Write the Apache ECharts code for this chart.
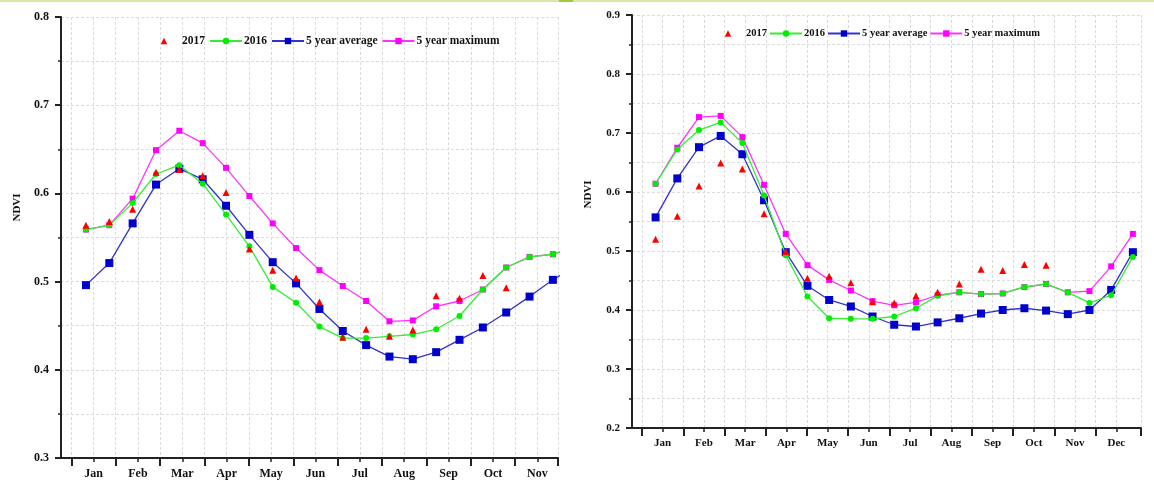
<!DOCTYPE html>
<html>
<head>
<meta charset="utf-8">
<script src="https://cdn.jsdelivr.net/npm/echarts@6/dist/echarts.min.js"></script>
<style>
html,body{margin:0;padding:0;background:#fff;}
#c{width:1154px;height:480px;}
</style>
</head>
<body>
<div id="c"></div>
<script>
// ---- data ----
const months = ['Jan','Feb','Mar','Apr','May','Jun','Jul','Aug','Sep','Oct','Nov','Dec'];
const seriesNames = ['2017','2016','5 year average','5 year maximum'];
// composite day-of-year positions
const doy = [10, 26, 42, 58, 74, 90, 106, 122, 138, 154, 170, 186, 202, 218, 234, 250, 266, 282, 298, 314, 330, 346, 362];

// left panel
const left2017 = [0.564, 0.568, 0.582, 0.624, 0.627, 0.620, 0.601, 0.537, 0.513, 0.504, 0.477, 0.437, 0.446, 0.438, 0.445, 0.484, 0.481, 0.507, 0.493];
const left2016 = [0.559, 0.564, 0.589, 0.622, 0.632, 0.611, 0.576, 0.540, 0.494, 0.476, 0.449, 0.436, 0.436, 0.438, 0.440, 0.446, 0.461, 0.491, 0.516, 0.528, 0.531, 0.540];
const leftAvg  = [0.496, 0.521, 0.566, 0.610, 0.628, 0.616, 0.586, 0.553, 0.522, 0.498, 0.469, 0.444, 0.428, 0.415, 0.412, 0.420, 0.434, 0.448, 0.465, 0.483, 0.502, 0.518];
const leftMax  = [0.559, 0.564, 0.594, 0.649, 0.671, 0.657, 0.629, 0.597, 0.566, 0.538, 0.513, 0.495, 0.478, 0.455, 0.456, 0.472, 0.478, 0.491, 0.516, 0.528, 0.531, 0.540];

// right panel
const right2017 = [0.520, 0.559, 0.610, 0.649, 0.639, 0.563, 0.499, 0.454, 0.457, 0.446, 0.414, 0.412, 0.424, 0.430, 0.444, 0.469, 0.467, 0.477, 0.476];
const right2016 = [0.614, 0.672, 0.705, 0.718, 0.683, 0.594, 0.493, 0.423, 0.386, 0.385, 0.385, 0.389, 0.403, 0.424, 0.430, 0.427, 0.428, 0.439, 0.444, 0.430, 0.412, 0.425, 0.490];
const rightAvg  = [0.557, 0.623, 0.676, 0.695, 0.664, 0.586, 0.498, 0.441, 0.417, 0.406, 0.389, 0.375, 0.372, 0.379, 0.386, 0.394, 0.400, 0.403, 0.399, 0.393, 0.400, 0.434, 0.498];
const rightMax  = [0.614, 0.675, 0.727, 0.729, 0.693, 0.612, 0.529, 0.476, 0.451, 0.433, 0.415, 0.408, 0.413, 0.425, 0.430, 0.427, 0.428, 0.439, 0.444, 0.430, 0.432, 0.474, 0.529];

// ---- build ----
const MONTH = 365 / 12;
const FONT = "'Liberation Serif','Times New Roman',serif";
const AXC = '#222';
const GRIDC = '#dcdcdc';

function pairs(vals){ return vals.map((v,i)=>[doy[i], v]); }

function xAxes(gi, min, max, nMonths, fs){
  const majors = [];
  for (let k=0;k<nMonths;k++) majors.push(k*MONTH);
  majors.push(max);
  const minors = [];
  for (let k=0;k<nMonths;k++) minors.push((k+0.5)*MONTH);
  const split = {show:true, lineStyle:{color:GRIDC, width:1, type:[3,2]}};
  return [
    {type:'value', gridIndex:gi, position:'bottom', min:min, max:max,
     axisLine:{show:true, onZero:false, lineStyle:{color:AXC, width:2}},
     axisTick:{show:true, customValues:majors, length:8, lineStyle:{color:AXC, width:2}},
     axisLabel:{show:false}, splitLine:split},
    {type:'value', gridIndex:gi, position:'bottom', min:min, max:max,
     axisLine:{show:false, onZero:false},
     axisTick:{show:true, customValues:minors, length:4, lineStyle:{color:AXC, width:1.5}},
     axisLabel:{show:true, customValues:minors, margin:10, fontSize:fs, fontWeight:'bold', fontFamily:FONT, color:'#111',
       formatter:(v)=>months[Math.floor(v/MONTH)]},
     splitLine:split}
  ];
}

function yAxis(gi, min, max, fs, nameShift){
  return {type:'value', gridIndex:gi, min:min, max:max, interval:0.1,
    axisLine:{show:true, onZero:false, lineStyle:{color:AXC, width:2}},
    axisTick:{show:true, length:6, lineStyle:{color:AXC, width:2}},
    minorTick:{show:true, splitNumber:2, length:3, lineStyle:{color:AXC, width:1.5}},
    splitLine:{show:true, lineStyle:{color:GRIDC, width:1, type:[3,2]}},
    minorSplitLine:{show:true, lineStyle:{color:GRIDC, width:1, type:[3,2]}},
    axisLabel:{margin:12, fontSize:fs, fontWeight:'bold', fontFamily:FONT, color:'#111',
      formatter:(v)=>v.toFixed(1)},
    name:'NDVI', nameLocation:'middle', nameGap:38, nameRotate:90,
    nameTextStyle:{fontSize:11, fontWeight:'bold', fontFamily:FONT, color:'#111', padding:[0,0,0,nameShift]}
  };
}

function panelSeries(xi, yi, d17, d16, dAvg, dMax){
  return [
    {name:seriesNames[0], type:'line', xAxisIndex:xi, yAxisIndex:yi, data:pairs(d17),
     symbol:'triangle', symbolSize:7, showSymbol:true, itemStyle:{color:'#ff0000', borderWidth:0},
     lineStyle:{width:0, opacity:0}, z:6},
    {name:seriesNames[1], type:'line', xAxisIndex:xi, yAxisIndex:yi, data:pairs(d16),
     symbol:'circle', symbolSize:6, showSymbol:true, itemStyle:{color:'#00ee00', borderWidth:0},
     lineStyle:{color:'#33ee33', width:1.3}, z:5},
    {name:seriesNames[2], type:'line', xAxisIndex:xi, yAxisIndex:yi, data:pairs(dAvg),
     symbol:'rect', symbolSize:8, showSymbol:true, itemStyle:{color:'#0000cc', borderWidth:0},
     lineStyle:{color:'#3333cc', width:1.3}, z:4},
    {name:seriesNames[3], type:'line', xAxisIndex:xi, yAxisIndex:yi, data:pairs(dMax),
     symbol:'rect', symbolSize:6, showSymbol:true, itemStyle:{color:'#ff00ff', borderWidth:0},
     lineStyle:{color:'#ff33ff', width:1.3}, z:3}
  ];
}

const legendText = (fs)=>({fontSize:fs, fontWeight:'bold', fontFamily:FONT, color:'#111', padding:[0,0,0,-3]});

const option = {
  animation:false,
  backgroundColor:'#fff',
  graphic:[
    {type:'rect', shape:{x:0,y:0,width:1154,height:2}, style:{fill:'#d8e8a6'}, z:100},
    {type:'rect', shape:{x:559,y:0,width:14,height:2}, style:{fill:'#a2c83c'}, z:101}
  ],
  grid:[
    {left:61, top:17, right:596, bottom:20, containLabel:false},
    {left:632, top:15, right:13, bottom:52, containLabel:false}
  ],
  xAxis:[].concat(xAxes(0, -7.1, 333.5, 11, 12), xAxes(1, -7.4, 368, 12, 11)),
  yAxis:[yAxis(0, 0.3, 0.8, 12, 60), yAxis(1, 0.2, 0.9, 11, 54)],
  legend:[
    {data:seriesNames, left:143, top:30, itemWidth:32, itemHeight:8, itemGap:4, textStyle:legendText(11.5)},
    {data:seriesNames, left:707, top:23, itemWidth:32, itemHeight:8, itemGap:2, textStyle:legendText(10.5)}
  ],
  series:[].concat(
    panelSeries(0, 0, left2017, left2016, leftAvg, leftMax),
    panelSeries(2, 1, right2017, right2016, rightAvg, rightMax)
  )
};

const chart = echarts.init(document.getElementById('c'), null, {renderer:'canvas'});
chart.setOption(option);
</script>
</body>
</html>
